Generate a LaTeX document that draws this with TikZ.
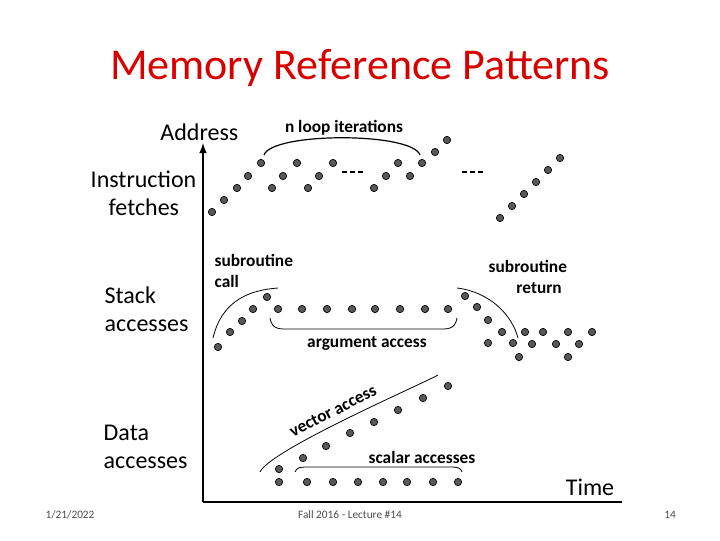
\documentclass[tikz,border=0pt]{standalone}
\usepackage{fontspec}
\setmainfont{Carlito}
\begin{document}
\begin{tikzpicture}[x=0.75pt,y=-0.75pt,
  dot/.style={circle,draw=black,fill=black!65,inner sep=0pt,minimum size=5.5pt,line width=0.5pt},
  lbl/.style={font=\fontsize{18}{21}\selectfont,align=left,anchor=west},
  sm/.style={font=\fontsize{13}{16}\selectfont\bfseries},
  foot/.style={font=\fontsize{8.5}{10}\selectfont,text=black!70},
  arc/.style={line width=0.6pt}]
\useasboundingbox (0,0) rectangle (720,540);
\node[font=\fontsize{33}{38}\selectfont,text=red!85!black] (title) at (360,68) {Memory Reference Patterns};
% axes
\coordinate (o) at (203,502);
\coordinate (ytop) at (203,143);
\coordinate (xend) at (622,502);
\draw[line width=1.6pt,-latex] (o) -- (ytop);
\draw[line width=1.6pt] (o) -- (xend);
\node[font=\fontsize{18}{21}\selectfont,anchor=east] (addr) at (243,132) {Address};
\node[font=\fontsize{18}{21}\selectfont] (time) at (590,487) {Time};
\node[lbl] (ifl) at (86,193) {Instruction\\\hspace*{0.75em}fetches};
\node[lbl] (sal) at (100,309) {Stack\\accesses};
\node[lbl] (dal) at (99,447) {Data\\accesses};
% instruction dots
\foreach \x/\y [count=\i] in {212/212,224/200,237/188,248/176,261/163,272/188,283/176,297/163,308/188,319/176,333/163,374/188,386/176,398/163,410/176,422/163,435/152,447/140,500/218,512/206,524/194,536/182,548/170,560/158}
  \node[dot] (i\i) at (\x,\y) {};
\coordinate (da) at (342,172); \coordinate (db) at (365,172);
\coordinate (dc) at (462,172); \coordinate (dd) at (485,172);
\draw[line width=1pt,dash pattern=on 4pt off 2pt] (da) -- (db);
\draw[line width=1pt,dash pattern=on 4pt off 2pt] (dc) -- (dd);
\draw[arc,line width=0.9pt] (264,155) .. controls (272,132) and (412,132) .. (420,155);
\node[sm] (nloop) at (344,128) {n loop iterations};
% stack dots
\foreach \x/\y [count=\i] in {218/347,230/332,242/321,253/309,267/297,278/309,302/309,327/309,352/309,375/309,400/309,425/309,448/309,465/296,477/307,488/320,502/332,488/343,513/343,519/357,525/332,532/344,543/332,556/344,568/332,568/357,579/344,592/332}
  \node[dot] (s\i) at (\x,\y) {};
\draw[arc] (213,338) .. controls (222,300) and (250,290) .. (278,288);
\draw[arc] (457,288) .. controls (490,292) and (512,315) .. (518,338);
\draw[arc] (270,318) .. controls (272,330) and (280,329) .. (290,329) -- (437,329) .. controls (447,329) and (455,330) .. (457,318);
\node[sm,align=left,anchor=west] (call) at (210,271) {subroutine\\call};
\node[sm,align=left,anchor=west] (ret) at (484,277) {subroutine\\\hspace*{1.6em}return};
\node[sm] (arg) at (367,343) {argument access};
% data dots
\foreach \x/\y [count=\i] in {279/469,303/458,326/446,350/433,374/422,398/410,423/398,448/386,279/482,307/482,333/482,358/482,383/482,407/482,433/482,458/482}
  \node[dot] (v\i) at (\x,\y) {};
\draw[arc] (260,472) .. controls (270,450) and (420,385) .. (438,375);
\draw[arc] (295,472) .. controls (297,467) and (300,467) .. (310,467) -- (450,467) .. controls (458,467) and (461,468) .. (462,472);
\node[sm,rotate=27,inner sep=0pt] (vec) at (333,411) {vector access};
\node[sm] (scal) at (422,457) {scalar accesses};
% footer
\node[foot] (date) at (70,515) {1/21/2022};
\node[foot] (lec) at (350,515) {Fall 2016 - Lecture \#14};
\node[foot] (pg) at (670,515) {14};
\end{tikzpicture}
\end{document}
